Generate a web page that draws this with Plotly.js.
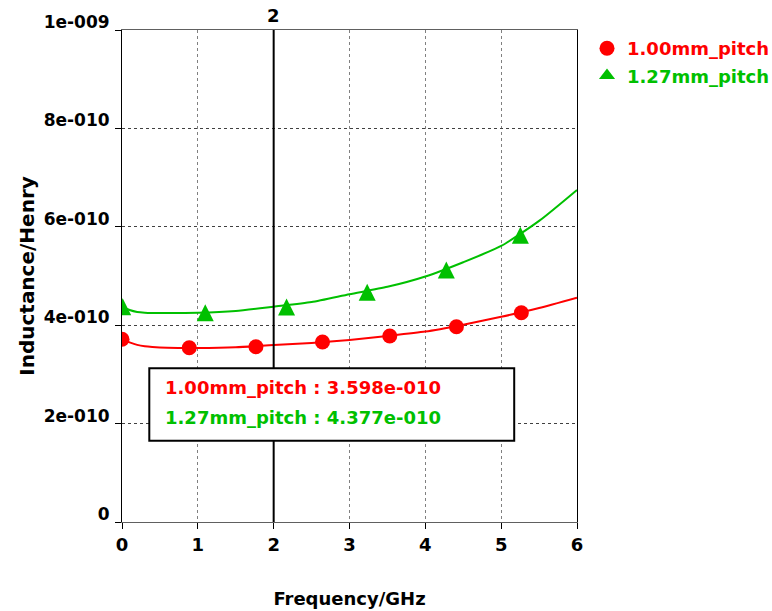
<!DOCTYPE html>
<html>
<head>
<meta charset="utf-8">
<script src="https://cdn.plot.ly/plotly-3.0.1.min.js"></script>
<style>html,body{margin:0;padding:0;background:#fff;}#chart{width:772px;height:611px;}</style>
</head>
<body>
<div id="chart"></div>
<script>
// ---- data (inductance in henry, frequency in GHz) ----
const seriesNames = ["1.00mm_pitch", "1.27mm_pitch"];
const seriesColors = ["#ff0000", "#00c000"];

// smooth simulated curves
const curveFreq = [0, 0.1, 0.2, 0.3, 0.4, 0.6, 1, 1.5, 2, 2.5, 3, 3.5, 4, 4.5, 5, 5.5, 6];
const curve100 = [3.71e-10, 3.65e-10, 3.60e-10, 3.57e-10, 3.555e-10, 3.54e-10, 3.535e-10, 3.55e-10, 3.598e-10, 3.64e-10, 3.70e-10, 3.78e-10, 3.87e-10, 4.01e-10, 4.17e-10, 4.35e-10, 4.56e-10];
const curve127 = [4.377e-10, 4.31e-10, 4.27e-10, 4.255e-10, 4.25e-10, 4.25e-10, 4.254e-10, 4.29e-10, 4.377e-10, 4.47e-10, 4.63e-10, 4.78e-10, 4.99e-10, 5.28e-10, 5.61e-10, 6.12e-10, 6.75e-10];

// marker points
const markFreq100 = [0.0, 0.887, 1.766, 2.644, 3.531, 4.41, 5.266];
const mark100 = [3.713e-10, 3.543e-10, 3.563e-10, 3.659e-10, 3.78e-10, 3.97e-10, 4.254e-10];
const markFreq127 = [0.009, 1.098, 2.17, 3.233, 4.277, 5.253];
const mark127 = [4.376e-10, 4.254e-10, 4.37e-10, 4.668e-10, 5.12e-10, 5.827e-10];

// marker readout at frequency line
const readoutFreq = 2;
const readoutValues = [3.598e-10, 4.377e-10];

// axis ticks
const xTickVals = [0, 1, 2, 3, 4, 5, 6];
const yTickVals = [0, 2e-10, 4e-10, 6e-10, 8e-10, 1e-9];
const yTickText = ["0", "2e-010", "4e-010", "6e-010", "8e-010", "1e-009"];

// ---- helpers ----
function fmtExp(v) {
  const [m, e] = v.toExponential(3).split("e");
  const n = parseInt(e, 10);
  const sign = n < 0 ? "-" : "+";
  return m + "e" + sign + String(Math.abs(n)).padStart(3, "0");
}

const FONT = "DejaVu Sans, Verdana, sans-serif";
const plotH = 611 - 30 - 89;   // plot area height in px
const triSize = 17;            // triangle marker size in px
const yRange = [0, 1e-9];
const shift = (triSize / 2) / plotH * (yRange[1] - yRange[0]);

const traces = [
  {x: curveFreq, y: curve100, mode: "lines", line: {color: seriesColors[0], width: 2, shape: "spline", smoothing: 0.6}, showlegend: false, hoverinfo: "skip"},
  {x: curveFreq, y: curve127, mode: "lines", line: {color: seriesColors[1], width: 2, shape: "spline", smoothing: 0.6}, showlegend: false, hoverinfo: "skip"},
  {x: markFreq100, y: mark100, mode: "markers", name: '<span style="color:' + seriesColors[0] + '">' + seriesNames[0] + '</span>',
   marker: {symbol: "circle", size: 15, color: seriesColors[0]}, showlegend: true, legendgroup: "a"},
  // triangles: apex-anchored symbol on an offset twin axis so each triangle is centred on its value
  {x: markFreq127, y: mark127, mode: "markers", yaxis: "y2", name: seriesNames[1],
   marker: {symbol: "arrow-up", size: triSize, color: seriesColors[1], line: {width: 0}}, showlegend: false},
  {x: [null], y: [null], mode: "markers", name: '<span style="color:' + seriesColors[1] + '">' + seriesNames[1] + '</span>',
   marker: {symbol: "triangle-up", size: 14, color: seriesColors[1]}, showlegend: true, legendgroup: "b"}
];

const layout = {
  width: 772, height: 611,
  margin: {l: 122, r: 195, t: 30, b: 89, pad: 0, autoexpand: false},
  paper_bgcolor: "#ffffff", plot_bgcolor: "#ffffff",
  font: {family: FONT, size: 16, color: "#000", weight: "bold"},
  showlegend: true,
  legend: {x: 1.022, y: 1.0, xanchor: "left", yanchor: "top", bgcolor: "rgba(0,0,0,0)",
           font: {family: FONT, size: 18, weight: "bold"}, traceorder: "grouped", tracegroupgap: 1,
           itemwidth: 30},
  xaxis: {
    range: [0, 6], tickvals: xTickVals, ticktext: xTickVals.map(String),
    showline: true, linecolor: "#606060", linewidth: 1, mirror: true,
    ticks: "outside", ticklen: 6, tickcolor: "#000", tickwidth: 1,
    showgrid: true, gridcolor: "#808080", gridwidth: 1, griddash: "dot",
    zeroline: false, automargin: false,
    tickfont: {family: FONT, size: 18, weight: "bold"},
    title: {text: "Frequency/GHz", font: {family: FONT, size: 18, weight: "bold"}, standoff: 38}
  },
  yaxis: {
    range: yRange, tickvals: yTickVals, ticktext: yTickText,
    showline: true, linecolor: "#000", linewidth: 1, mirror: true,
    ticks: "outside", ticklen: 6, tickcolor: "#000", tickwidth: 1,
    showgrid: true, gridcolor: "#404040", gridwidth: 1, griddash: "dot",
    zeroline: false, automargin: false,
    ticklabelshift: -8, ticklabelstandoff: 2,
    tickfont: {family: FONT, size: 17, weight: "bold"},
    title: {text: "Inductance/Henry", font: {family: FONT, size: 20, weight: "bold"}, standoff: 3}
  },
  yaxis2: {overlaying: "y", range: [yRange[0] - shift, yRange[1] - shift], visible: false, fixedrange: true},
  shapes: [
    {type: "line", xref: "x", yref: "paper", x0: readoutFreq, x1: readoutFreq, y0: 0, y1: 1,
     line: {color: "#000", width: 2}, layer: "above"},
    {type: "rect", xref: "paper", yref: "paper", x0: 0.060, x1: 0.862, y0: 0.165, y1: 0.3124,
     line: {color: "#000", width: 2}, fillcolor: "#ffffff", layer: "above"}
  ],
  annotations: [
    {xref: "x", yref: "paper", x: readoutFreq, y: 1, yanchor: "bottom", yshift: 2, showarrow: false,
     text: String(readoutFreq), font: {family: FONT, size: 18, weight: "bold", color: "#000"}},
    {xref: "paper", yref: "paper", x: 0.0901, y: 0.2724, xanchor: "left", yanchor: "middle", showarrow: false,
     text: seriesNames[0] + " : " + fmtExp(readoutValues[0]),
     font: {family: FONT, size: 18, weight: "bold", color: seriesColors[0]}},
    {xref: "paper", yref: "paper", x: 0.0901, y: 0.2114, xanchor: "left", yanchor: "middle", showarrow: false,
     text: seriesNames[1] + " : " + fmtExp(readoutValues[1]),
     font: {family: FONT, size: 18, weight: "bold", color: seriesColors[1]}}
  ]
};

Plotly.newPlot("chart", traces, layout, {staticPlot: true, displayModeBar: false});
</script>
</body>
</html>
